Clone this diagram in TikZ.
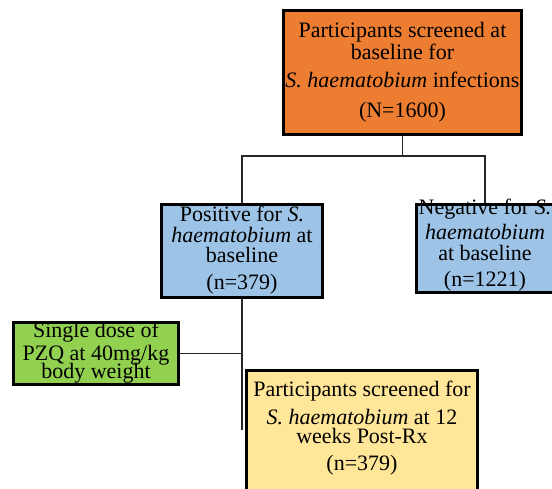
\documentclass[tikz,border=0pt]{standalone}
\usepackage{fontspec}
\setmainfont{Liberation Serif}
\definecolor{boxorange}{HTML}{ED7D31}
\definecolor{boxblue}{HTML}{9DC3E6}
\definecolor{boxgreen}{HTML}{92D050}
\definecolor{boxyellow}{HTML}{FFE699}
\begin{document}
\begin{tikzpicture}[x=1pt,y=1pt,
  box/.style={draw=black,line width=3pt,rectangle,inner sep=0pt},
  txt/.style={anchor=base,align=center,inner sep=0pt,font=\fontsize{22}{21}\selectfont},
  conn/.style={draw=black!85,line width=1.5pt}]
\useasboundingbox (0,0) rectangle (552,-489);
% boxes
\node[box,fill=boxorange,minimum width=238,minimum height=124] (top) at (402.5,-72.5) {};
\node[box,fill=boxblue,minimum width=161,minimum height=93] (pos) at (242,-251) {};
\node[box,fill=boxblue,minimum width=137,minimum height=88] (neg) at (485,-248.5) {};
\node[box,fill=boxgreen,minimum width=165,minimum height=62] (grn) at (96,-353.5) {};
\node[box,fill=boxyellow,minimum width=231,minimum height=130] (yel) at (362,-435.5) {};
% texts (anchored at the baseline of the last line)
\node[txt] (toptxt) at (402.5,-118) {Participants screened at\\[1pt]baseline for\\[7pt]\textit{S. haematobium} infections\\[9pt](N=1600)};
\node[txt] (postxt) at (242,-290) {Positive for \textit{S.}\\\textit{haematobium} at\\[-1pt]baseline\\[6pt](n=379)};
\node[txt] (negtxt) at (485,-287) {Negative for \textit{S.}\\[4pt]\textit{haematobium}\\at baseline\\[5pt](n=1221)};
\node[txt] (grntxt) at (96,-378) {Single dose of\\[2pt]PZQ at 40mg/kg\\[-3pt]body weight};
\node[txt] (yeltxt) at (362,-470) {Participants screened for\\[7pt]\textit{S. haematobium} at 12\\[-2pt]weeks Post-Rx\\[6pt](n=379)};
% connectors
\coordinate (jt) at (402.5,-156);
\coordinate (pend) at (242,-430);
\draw[conn] (top.south) -- (jt);
\draw[conn] (pos.north) |- (jt) -| (neg.north);
\draw[conn] (pos.south) -- (pend);
\draw[conn] (grn.east) -- (grn.east -| pend);
\end{tikzpicture}
\end{document}
